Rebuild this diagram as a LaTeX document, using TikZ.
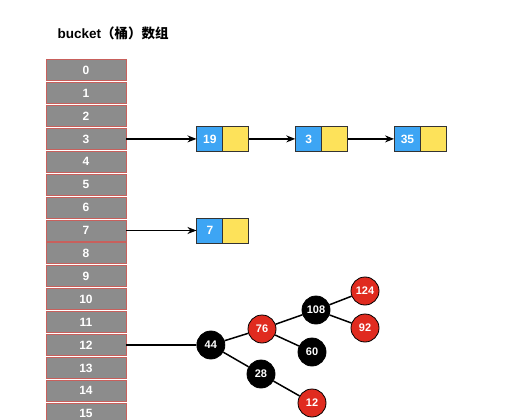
\documentclass[tikz,border=0pt]{standalone}
\usepackage{fontspec}
\setmainfont{Liberation Sans}
\newfontfamily\cjk{Noto Sans CJK SC}
\usetikzlibrary{positioning,arrows,arrows.meta}
\definecolor{cellgray}{HTML}{8C8C8C}
\definecolor{cellred}{HTML}{C8605C}
\definecolor{keyblue}{HTML}{3DA5F4}
\definecolor{nextyellow}{HTML}{FDE25A}
\definecolor{rbred}{HTML}{E02B1F}
\tikzstyle{cell} = [draw=cellred, fill=cellgray, line width=0.9pt, minimum width=80pt, minimum height=21pt,
    inner sep=0pt, text=white, font=\bfseries\fontsize{12}{12}\selectfont]
\tikzstyle{keybox} = [draw=black!80, fill=keyblue, line width=0.8pt, minimum width=26pt, minimum height=25pt,
    inner sep=0pt, text=white, font=\bfseries\fontsize{12}{12}\selectfont]
\tikzstyle{nextbox} = [draw=black!80, fill=nextyellow, line width=0.8pt, minimum width=26pt, minimum height=25pt, inner sep=0pt]
\tikzstyle{blacknode} = [circle, draw=black, fill=black, line width=0.8pt, minimum size=28pt, inner sep=0pt,
    text=white, font=\bfseries\fontsize{11}{11}\selectfont]
\tikzstyle{rednode} = [blacknode, fill=rbred]
\tikzstyle{arrow} = [line width=1.3pt,-{Stealth[length=9pt,width=7pt]}]
\tikzstyle{edge} = [line width=1.5pt]

\begin{document}
\begin{tikzpicture}[x=1pt, y=-1pt]
\useasboundingbox (0,0) rectangle (512,420);
\node[anchor=west, font=\bfseries\fontsize{13.5}{13.5}\selectfont] (title) at (54,33) {bucket{\cjk（桶）数组}};

% bucket array
\foreach \i in {0,...,15}
    \node[cell] (c\i) at (86,{70.2+22.9*\i}) {\i};

% linked lists
\node[keybox, right=70pt of c3] (k19) {19};
\node[nextbox, right=-0.8pt of k19] (p19) {};
\node[keybox, right=46pt of p19] (k3) {3};
\node[nextbox, right=-0.8pt of k3] (p3) {};
\node[keybox, right=46pt of p3] (k35) {35};
\node[nextbox, right=-0.8pt of k35] (p35) {};
\draw[arrow] (c3.east) -- (k19.west);
\draw[arrow] (p19.east) -- (k3.west);
\draw[arrow] (p3.east) -- (k35.west);

\node[keybox, right=70pt of c7] (k7) {7};
\node[nextbox, right=-0.8pt of k7] (p7) {};
\draw[arrow] (c7.east) -- (k7.west);

% red-black tree
\node[blacknode, right=70pt of c12] (t44) {44};
\node[rednode] (t76) at (262,329) {76};
\node[blacknode] (t108) at (316,310) {108};
\node[rednode] (t124) at (365,291) {124};
\node[rednode] (t92) at (365,328) {92};
\node[blacknode] (t60) at (312,352) {60};
\node[blacknode] (t28) at (261,374) {28};
\node[rednode] (t12) at (312,403) {12};
\draw[edge] (c12.east) -- (t44);
\draw[edge] (t44) -- (t76);
\draw[edge] (t44) -- (t28);
\draw[edge] (t76) -- (t108);
\draw[edge] (t76) -- (t60);
\draw[edge] (t108) -- (t124);
\draw[edge] (t108) -- (t92);
\draw[edge] (t28) -- (t12);
\end{tikzpicture}
\end{document}
